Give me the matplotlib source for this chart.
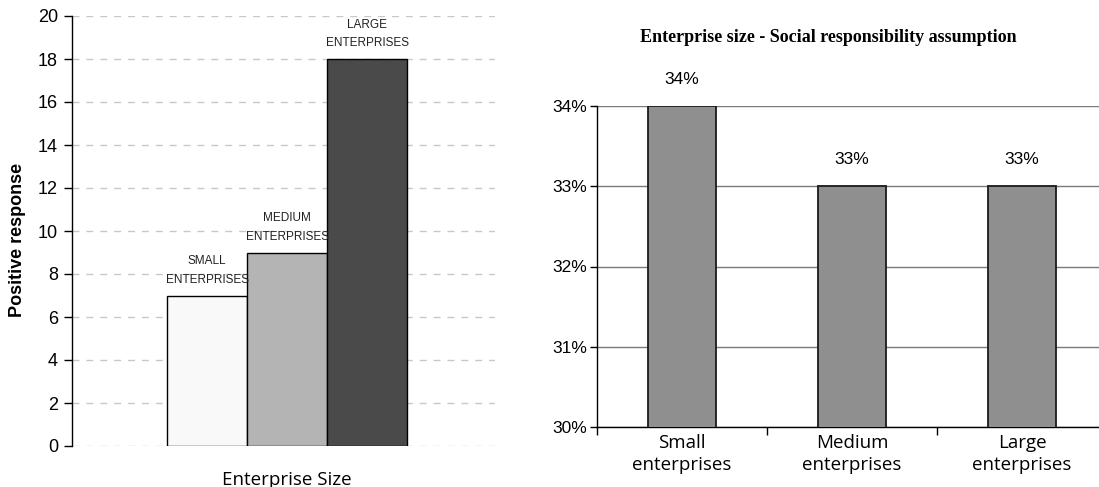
import matplotlib
matplotlib.use("Agg")
import matplotlib.pyplot as plt
from matplotlib.ticker import FuncFormatter

# left panel: count of positive responses per enterprise size
size_labels = ["SMALL\nENTERPRISES", "MEDIUM\nENTERPRISES", "LARGE\nENTERPRISES"]
positive_counts = [7, 9, 18]
count_colors = ["#f9f9f9", "#b4b4b4", "#4a4a4a"]

# right panel: share assuming social responsibility
categories = ["Small\nenterprises", "Medium\nenterprises", "Large\nenterprises"]
shares = [34, 33, 33]

W, H = 1099, 487
fig = plt.figure(figsize=(W / 100, H / 100), dpi=100)


def px_axes(x0, y0, x1, y1):
    # pixel box (top-left origin) -> figure axes
    return fig.add_axes([x0 / W, 1 - y1 / H, (x1 - x0) / W, (y1 - y0) / H])


# ---- left chart ----
ax1 = px_axes(72, 16, 495, 446)
xs = list(range(len(positive_counts)))
bars = ax1.bar(xs, positive_counts, width=1.0, color=count_colors,
               edgecolor="black", linewidth=1.0, zorder=3)
ax1.set_xlim(-1.69, 3.6)
ax1.set_ylim(0, 20)
ax1.set_yticks(range(0, 21, 2))
ax1.yaxis.grid(True, color="#c8c8c8", linestyle=(0, (5, 5)), linewidth=1.0, zorder=0)
ax1.set_axisbelow(True)
ax1.set_xticks([])
for side in ["top", "right", "bottom"]:
    ax1.spines[side].set_visible(False)
ax1.spines["left"].set_linewidth(1.0)
ax1.tick_params(axis="y", length=6, width=1.0, labelsize=13, pad=4)
for lab in ax1.get_yticklabels():
    lab.set_fontfamily("Liberation Sans")

for b, lab in zip(bars, size_labels):
    ax1.annotate(lab, (b.get_x() + b.get_width() / 2, b.get_height()),
                 xytext=(0, 7), textcoords="offset points", ha="center", va="bottom",
                 fontsize=8.5, family="Liberation Sans", color="#222222",
                 linespacing=1.7)

fig.text(18 / W, 1 - 240 / H, "Positive response", rotation=90, ha="center",
         va="center", fontsize=13, fontweight="bold", family="Liberation Sans")
fig.text(287 / W, 1 - 485 / H, "Enterprise Size", ha="center", va="baseline",
         fontsize=13.5, family="Open Sans")

# ---- right chart ----
ax2 = px_axes(597, 106, 1107, 427)
xs2 = list(range(len(shares)))
ax2.bar(xs2, shares, width=0.4, color="#8f8f8f", edgecolor="#1a1a1a",
        linewidth=1.3, zorder=3)
ax2.set_xlim(-0.5, 2.5)
ax2.set_ylim(30, 34)
ax2.set_yticks([30, 31, 32, 33, 34])
ax2.yaxis.set_major_formatter(FuncFormatter(lambda v, p: f"{v:.0f}%"))
ax2.yaxis.grid(True, color="#7a7a7a", linewidth=1.0, zorder=0)
ax2.set_axisbelow(True)
for side in ["top", "right"]:
    ax2.spines[side].set_visible(False)
for side in ["left", "bottom"]:
    ax2.spines[side].set_linewidth(1.0)
ax2.set_xticks([i - 0.5 for i in range(len(shares) + 1)])
ax2.set_xticklabels([])
ax2.set_xticks(xs2, minor=True)
ax2.set_xticklabels(categories, minor=True, fontsize=13.5, family="Open Sans",
                    linespacing=1.3)
ax2.tick_params(axis="x", which="major", length=6, width=1.0)
ax2.tick_params(axis="x", which="minor", length=0, pad=5)
ax2.tick_params(axis="y", length=5, width=1.0, labelsize=12.5, pad=2)
for lab in ax2.get_yticklabels():
    lab.set_fontfamily("Liberation Sans")

for x, v in zip(xs2, shares):
    ax2.annotate(f"{v}%", (x, v), xytext=(0, 14), textcoords="offset points",
                 ha="center", va="bottom", fontsize=12.5, family="Liberation Sans")

fig.text(828 / W, 1 - 37 / H, "Enterprise size - Social responsibility assumption",
         ha="center", va="center", fontsize=13, fontweight="bold",
         family="Liberation Serif")

fig.savefig("out.png", dpi=100)
